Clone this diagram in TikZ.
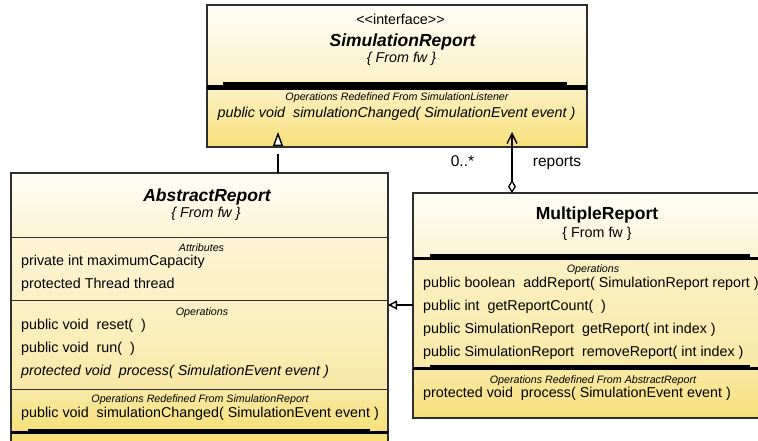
\documentclass[tikz,border=0pt]{standalone}
\usepackage{fontspec}
\setmainfont{Liberation Sans}
\usetikzlibrary{arrows.meta}

\definecolor{boxline}{HTML}{2E2E2E}
\definecolor{creamtop}{HTML}{FFFEF6}
\definecolor{creamlow}{HTML}{FCF4D4}
\definecolor{paleyel}{HTML}{FBF1C6}
\definecolor{midyel}{HTML}{F9E9A6}
\definecolor{deepyel}{HTML}{F7E07A}

\begin{document}
\begin{tikzpicture}[x=1pt,y=-1pt,
  classbox/.style={draw=boxline, line width=1.2pt, inner sep=0pt, outer sep=0pt, anchor=north west},
  divider/.style={draw=boxline, line width=1pt},
  headname/.style={font=\fontsize{17.5}{20}\selectfont\bfseries, anchor=base, inner sep=0pt},
  headinfo/.style={font=\fontsize{14.3}{16}\selectfont, anchor=base, inner sep=0pt},
  secttitle/.style={font=\fontsize{10.7}{12}\selectfont\itshape, anchor=base, inner sep=0pt},
  member/.style={font=\fontsize{14.3}{16}\selectfont, anchor=base west, inner sep=0pt},
  rolelabel/.style={font=\fontsize{15.5}{18}\selectfont, anchor=base, inner sep=0pt},
  realize/.style={draw=black, line width=1.4pt, dash pattern=on 19pt off 40pt,
    -{Triangle[open, fill=white, length=14pt, width=10pt, line width=1.4pt]}},
  assoc/.style={draw=black, line width=1.4pt,
    {Diamond[open, fill=white, length=13pt, width=8pt, line width=1.3pt]}-{Straight Barb[length=10pt, width=10pt, line width=1.4pt]}},
  generalize/.style={draw=black, line width=1.4pt,
    -{Triangle[open, fill=white, length=9pt, width=9pt, line width=1.4pt]}}
]
\useasboundingbox (0,0) rectangle (758,441);
\clip (0,0) rectangle (758,441);
\fill[white] (0,0) rectangle (758,441);

% ---------- SimulationReport (interface) ----------
\shade[top color=creamtop, bottom color=paleyel] (207,5) rectangle (587,86);
\shade[top color=paleyel, bottom color=deepyel] (207,86) rectangle (587,147);
\node[classbox, minimum width=380pt, minimum height=142pt] (sr) at (207,5) {};
\fill[black] (223,82) rectangle (567,85.5);
\fill[black] (207,85) rectangle (587,90);
\node[headinfo] (sr-stereo) at (400.5,25) {<\kern0pt<interface>\kern0pt>};
\node[headname, font=\fontsize{17.5}{20}\selectfont\bfseries\itshape] (sr-name) at (402.5,47) {SimulationReport};
\node[headinfo, font=\fontsize{14.3}{16}\selectfont\itshape] (sr-from) at (401.5,63) {\{ From fw \}};
\node[secttitle] (sr-redef) at (397,101) {Operations Redefined From SimulationListener};
\node[headinfo, font=\fontsize{14.3}{16}\selectfont\itshape] (sr-op1) at (396.5,118) {public void\ \ simulationChanged( SimulationEvent event )};

% ---------- AbstractReport ----------
\shade[top color=creamtop, bottom color=creamlow] (11,173) rectangle (388,237);
\shade[top color=creamlow, bottom color=paleyel] (11,237) rectangle (388,300.5);
\shade[top color=paleyel, bottom color=midyel] (11,300.5) rectangle (388,389);
\shade[top color=midyel, bottom color=deepyel] (11,389) rectangle (388,431);
\fill[deepyel] (11,431) rectangle (388,460);
\node[classbox, minimum width=377pt, minimum height=300pt] (ar) at (11,173) {};
\draw[divider] (ar.west |- 0,237) -- (ar.east |- 0,237);
\draw[divider] (ar.west |- 0,300.5) -- (ar.east |- 0,300.5);
\draw[divider] (ar.west |- 0,389) -- (ar.east |- 0,389);
\fill[black] (28,428.5) rectangle (370,431.5);
\fill[black] (11,431) rectangle (388,434);
\node[headname, font=\fontsize{17.5}{20}\selectfont\bfseries\itshape] (ar-name) at (207,201) {AbstractReport};
\node[headinfo, font=\fontsize{14.3}{16}\selectfont\itshape] (ar-from) at (206,218) {\{ From fw \}};
\node[secttitle] (ar-attr) at (201.5,251) {Attributes};
\node[member] (ar-a1) at (21,265) {private int maximumCapacity};
\node[member] (ar-a2) at (21,288) {protected Thread thread};
\node[secttitle] (ar-ops) at (202,315) {Operations};
\node[member] (ar-o1) at (21,329) {public void\ \ reset(\ \ )};
\node[member] (ar-o2) at (21,352) {public void\ \ run(\ \ )};
\node[member, font=\fontsize{14.3}{16}\selectfont\itshape] (ar-o3) at (21,375.5) {protected void\ \ process( SimulationEvent event )};
\node[secttitle] (ar-redef) at (200,402) {Operations Redefined From SimulationReport};
\node[member] (ar-r1) at (21,417) {public void\ \ simulationChanged( SimulationEvent event )};

% ---------- MultipleReport ----------
\shade[top color=creamtop, bottom color=creamlow] (413,193) rectangle (781,257);
\shade[top color=paleyel, bottom color=midyel] (413,257) rectangle (781,368);
\shade[top color=midyel, bottom color=deepyel] (413,368) rectangle (781,418);
\node[classbox, minimum width=368pt, minimum height=225pt] (mr) at (413,193) {};
\fill[black] (430,254) rectangle (750,257);
\fill[black] (413,256.5) rectangle (781,259.5);
\fill[black] (430,365) rectangle (750,367.5);
\fill[black] (413,367) rectangle (781,370);
\node[headname] (mr-name) at (597,219) {MultipleReport};
\node[headinfo] (mr-from) at (597,237) {\{ From fw \}};
\node[secttitle] (mr-ops) at (593,272) {Operations};
\node[member] (mr-o1) at (423,287) {public boolean\ \ addReport( SimulationReport report )};
\node[member] (mr-o2) at (423,310) {public int\ \ getReportCount(\ \ )};
\node[member] (mr-o3) at (423,333) {public SimulationReport\ \ getReport( int index )};
\node[member] (mr-o4) at (423,356) {public SimulationReport\ \ removeReport( int index )};
\node[secttitle] (mr-redef) at (593,383) {Operations Redefined From AbstractReport};
\node[member] (mr-r1) at (423,397) {protected void\ \ process( SimulationEvent event )};

% ---------- relationships ----------
\coordinate (realtip) at (278,132);
\coordinate (assoctip) at (512,132);
\coordinate (genrow) at (0,305);

\draw[realize] (ar.north -| realtip) -- (realtip);
\draw[assoc] (mr.north -| assoctip) -- (assoctip);
\draw[generalize] (mr.west |- genrow) -- (ar.east |- genrow);

\node[rolelabel] (mult) at (462.5,167) {0..*};
\node[rolelabel] (role) at (557,167) {reports};
\end{tikzpicture}
\end{document}
